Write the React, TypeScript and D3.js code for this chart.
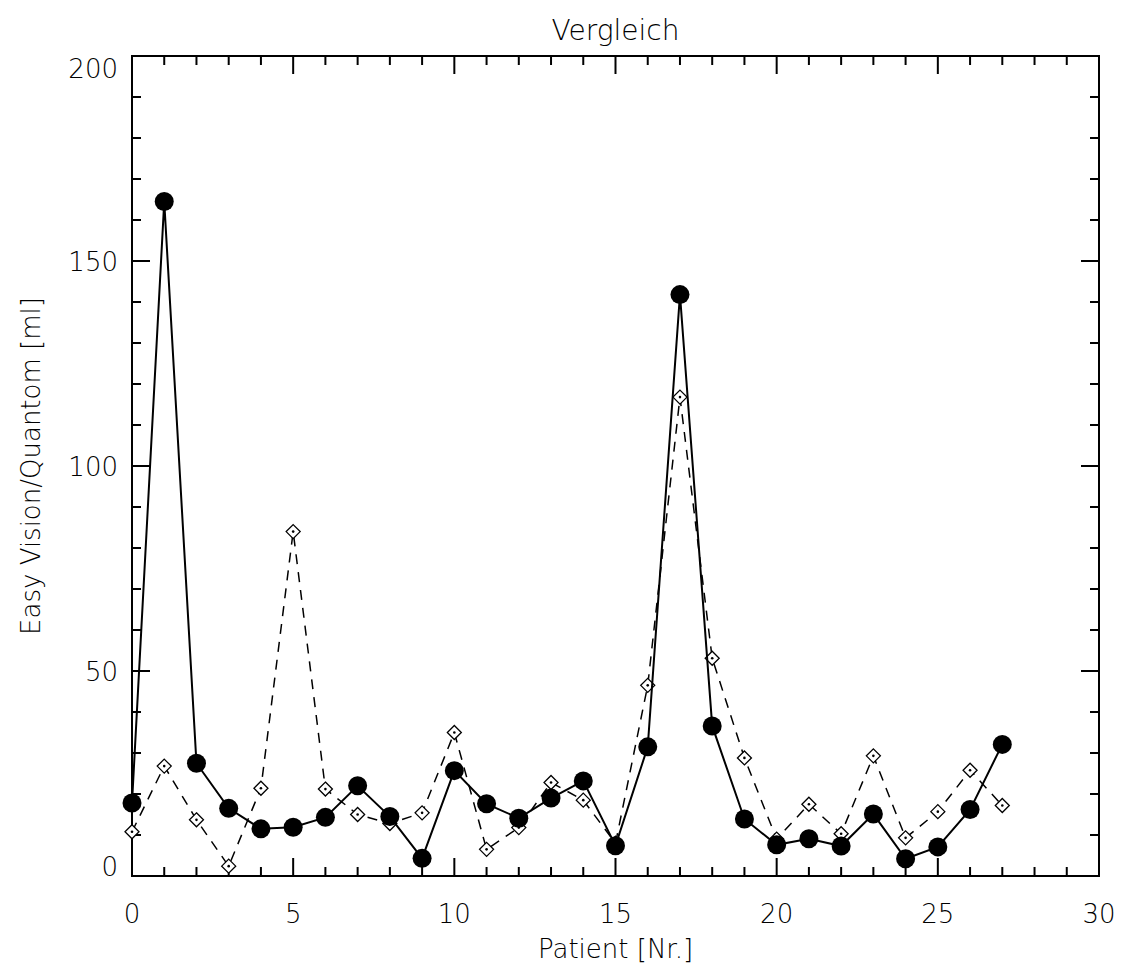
import React from 'react';
import * as d3 from 'd3';

// Patient numbers and the two measurement series
const patients = d3.range(0, 28);
const easyVision = [17.8, 164.5, 27.5, 16.5, 11.5, 11.9, 14.3, 22, 14.5, 4.3, 25.7, 17.6, 14.1, 19, 23.2, 7.4, 31.5, 141.8, 36.6, 13.9, 7.6, 9.1, 7.3, 15.1, 4.2, 7.1, 16.2, 32.1];
const quantom = [10.8, 26.8, 13.7, 2.4, 21.4, 84, 21.2, 15, 12.8, 15.4, 35, 6.5, 11.8, 22.8, 18.5, 8, 46.5, 116.8, 53.1, 28.8, 9, 17.5, 10.3, 29.3, 9.3, 15.7, 25.8, 17.2];

const xMajor = [0, 5, 10, 15, 20, 25, 30];
const yMajor = [0, 50, 100, 150, 200];

const W = 1122;
const H = 968;
const left = 132, right = 1099, top = 56, bottom = 876;
const font = 'DejaVu Sans, sans-serif';

export default function App() {
  const x = d3.scaleLinear().domain([0, 30]).range([left, right]);
  const y = d3.scaleLinear().domain([0, 200]).range([bottom, top]);

  const line = d3.line<number>().x((_, i) => x(patients[i])).y((d) => y(d));

  const xMinor = d3.range(0, 31).filter((v) => v % 5 !== 0);
  const yMinor = d3.range(0, 201, 10).filter((v) => v % 50 !== 0);

  return (
    <svg width={W} height={H} style={{ position: 'absolute', left: 0, top: 0, background: '#fff' }}>
      <rect x={0} y={0} width={W} height={H} fill="#fff" />
      {/* frame */}
      <rect x={left} y={top} width={right - left} height={bottom - top} fill="none" stroke="#000" strokeWidth={2} />
      {/* x ticks, bottom and top */}
      {xMajor.map((v) => (
        <g key={'xM' + v}>
          <line x1={x(v)} x2={x(v)} y1={bottom} y2={bottom - 18} stroke="#000" strokeWidth={2} />
          <line x1={x(v)} x2={x(v)} y1={top} y2={top + 18} stroke="#000" strokeWidth={2} />
          <text x={x(v)} y={923} textAnchor="middle" fontFamily={font} fontSize={26} fontWeight={300}>{v}</text>
        </g>
      ))}
      {xMinor.map((v) => (
        <g key={'xm' + v}>
          <line x1={x(v)} x2={x(v)} y1={bottom} y2={bottom - 9} stroke="#000" strokeWidth={2} />
          <line x1={x(v)} x2={x(v)} y1={top} y2={top + 9} stroke="#000" strokeWidth={2} />
        </g>
      ))}
      {/* y ticks, left and right */}
      {yMajor.map((v, i) => (
        <g key={'yM' + v}>
          <line x1={left} x2={left + 18} y1={y(v)} y2={y(v)} stroke="#000" strokeWidth={2} />
          <line x1={right} x2={right - 18} y1={y(v)} y2={y(v)} stroke="#000" strokeWidth={2} />
          <text x={118} y={y(v) + (i === 0 ? 0 : i === yMajor.length - 1 ? 22 : 10)} textAnchor="end" fontFamily={font} fontSize={26} fontWeight={300}>{v}</text>
        </g>
      ))}
      {yMinor.map((v) => (
        <g key={'ym' + v}>
          <line x1={left} x2={left + 9} y1={y(v)} y2={y(v)} stroke="#000" strokeWidth={2} />
          <line x1={right} x2={right - 9} y1={y(v)} y2={y(v)} stroke="#000" strokeWidth={2} />
        </g>
      ))}
      {/* dashed series */}
      <path d={line(quantom) || ''} fill="none" stroke="#000" strokeWidth={1.5} strokeDasharray="10,8" />
      {quantom.map((v, i) => {
        const cx = x(patients[i]);
        const cy = y(v);
        const s = 7;
        return (
          <g key={'q' + i}>
            <path d={`M${cx},${cy - s}L${cx + s},${cy}L${cx},${cy + s}L${cx - s},${cy}Z`} fill="#fff" stroke="#000" strokeWidth={1.3} />
            <circle cx={cx} cy={cy} r={1.3} fill="#000" />
          </g>
        );
      })}
      {/* solid series */}
      <path d={line(easyVision) || ''} fill="none" stroke="#000" strokeWidth={2} />
      {easyVision.map((v, i) => (
        <circle key={'e' + i} cx={x(patients[i])} cy={y(v)} r={9.5} fill="#000" />
      ))}
      {/* titles */}
      <text x={(left + right) / 2} y={40} textAnchor="middle" fontFamily={font} fontSize={28} fontWeight={300}>Vergleich</text>
      <text x={(left + right) / 2} y={958} textAnchor="middle" fontFamily={font} fontSize={26} fontWeight={300}>Patient [Nr.]</text>
      <text transform={`translate(40,${(top + bottom) / 2}) rotate(-90)`} textAnchor="middle" fontFamily={font} fontSize={26} fontWeight={300}>Easy Vision/Quantom [ml]</text>
    </svg>
  );
}
